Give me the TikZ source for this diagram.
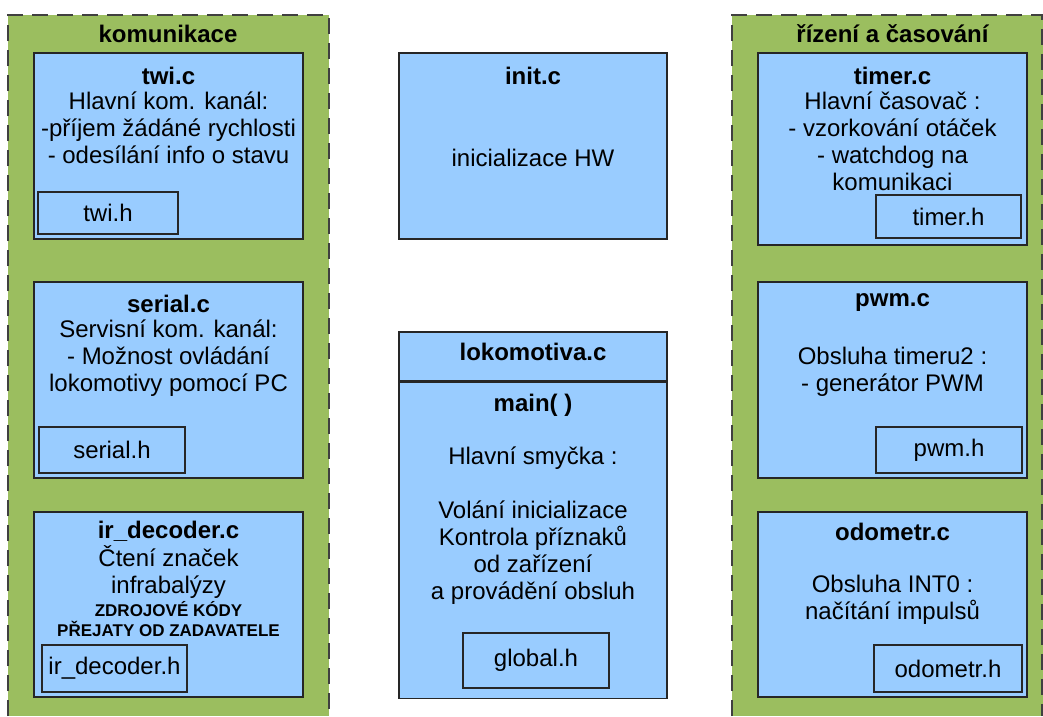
\documentclass[tikz,border=0pt]{standalone}
\usepackage{fontspec}
\setmainfont{Liberation Sans}
\definecolor{pgreen}{RGB}{155,190,95}
\definecolor{pblue}{RGB}{153,204,255}
\begin{document}
\begin{tikzpicture}[x=1pt,y=-1pt,
  paneledge/.style={draw=black!75, line width=1.5pt, dash pattern=on 16pt off 9pt},
  filebox/.style={draw=black!85, fill=pblue, line width=1.2pt, inner sep=0pt},
  hbox/.style={draw=black!85, fill=pblue, line width=1.2pt, inner sep=0pt, font=\fontsize{24}{27}\selectfont},
  ttl/.style={inner sep=0pt, font=\bfseries\fontsize{24}{27}\selectfont},
  body/.style={inner sep=0pt, align=center, font=\fontsize{24}{27}\selectfont},
  small/.style={inner sep=0pt, align=center, font=\bfseries\fontsize{17}{19.5}\selectfont}]
\useasboundingbox (0,0) rectangle (1043,716);
% panels
\fill[pgreen] (8,15) rectangle (329,716);
\draw[paneledge] (8,716) -- (8,15) -- (329,15) -- (329,716);
\fill[pgreen] (732,15) rectangle (1043,716);
\draw[paneledge] (732,716) -- (732,15) -- (1042,15) -- (1042,716);
\node[ttl] (komlbl) at (168,34) {komunikace};
\node[ttl] (rizlbl) at (892.5,34) {řízení a časování};
% left column
\node[filebox, minimum width=269pt, minimum height=186pt] (twi) at (168.5,146) {};
\node[ttl] (twit) at (168.5,76) {twi.c};
\node[body] (twib) at (168.5,128) {Hlavní kom. kanál:\\-příjem žádáné rychlosti\\- odesílání info o stavu};
\node[hbox, minimum width=140pt, minimum height=42pt] (twih) at (108,213) {twi.h};

\node[filebox, minimum width=269pt, minimum height=196pt] (serial) at (168.5,380) {};
\node[ttl] (serialt) at (168.5,304) {serial.c};
\node[body] (serialb) at (168.5,358) {Servisní kom. kanál:\\- Možnost ovládání\\lokomotivy pomocí PC};
\node[hbox, minimum width=146pt, minimum height=46pt] (serialh) at (112,450) {serial.h};

\node[filebox, minimum width=269pt, minimum height=185pt] (ir) at (168.5,604.5) {};
\node[ttl] (irt) at (168.5,531) {ir\_decoder.c};
\node[body] (irb) at (168.5,572) {Čtení značek\\ infrabalýzy};
\node[small] (irs) at (168.5,619) {ZDROJOVÉ KÓDY\\PŘEJATY OD ZADAVATELE};
\node[hbox, minimum width=145pt, minimum height=47pt] (irh) at (114.5,668.5) {ir\_decoder.h};
% middle column
\node[filebox, minimum width=268pt, minimum height=186pt] (init) at (533,146) {};
\node[ttl] (initt) at (533,76) {init.c};
\node[body] (initb) at (533,158) {inicializace HW};

\node[filebox, minimum width=268pt, minimum height=49pt] (loktop) at (533,356.5) {};
\node[filebox, minimum width=268pt, minimum height=316pt, anchor=north] (lokmain) at (loktop.south) {};
\node[ttl] (lokt) at (533,352) {lokomotiva.c};
\node[ttl] (maint) at (533,405) {main( )};
\node[body] (mainb) at (533,526) {Hlavní smyčka :\\[27pt]Volání inicializace\\Kontrola příznaků\\od zařízení\\a provádění obsluh};
\node[hbox, minimum width=146pt, minimum height=55pt] (globalh) at (536,660.5) {global.h};
% right column
\node[filebox, minimum width=269pt, minimum height=192pt] (timer) at (892.5,149) {};
\node[ttl] (timert) at (892.5,76) {timer.c};
\node[body] (timerb) at (892.5,141.5) {Hlavní časovač :\\- vzorkování otáček\\- watchdog na\\komunikaci};
\node[hbox, minimum width=145pt, minimum height=43pt] (timerh) at (948.5,216.5) {timer.h};

\node[filebox, minimum width=269pt, minimum height=196pt] (pwm) at (892.5,380) {};
\node[ttl] (pwmt) at (892.5,303) {pwm.c};
\node[body] (pwmb) at (892.5,371.5) {Obsluha timeru2 :\\- generátor PWM};
\node[hbox, minimum width=146pt, minimum height=46pt] (pwmh) at (949,450) {pwm.h};

\node[filebox, minimum width=269pt, minimum height=185pt] (odo) at (892.5,604.5) {};
\node[ttl] (odot) at (892.5,532) {odometr.c};
\node[body] (odob) at (892.5,599.5) {Obsluha INT0 :\\načítání impulsů};
\node[hbox, minimum width=148pt, minimum height=47pt] (odoh) at (948,668.5) {odometr.h};
\end{tikzpicture}
\end{document}
